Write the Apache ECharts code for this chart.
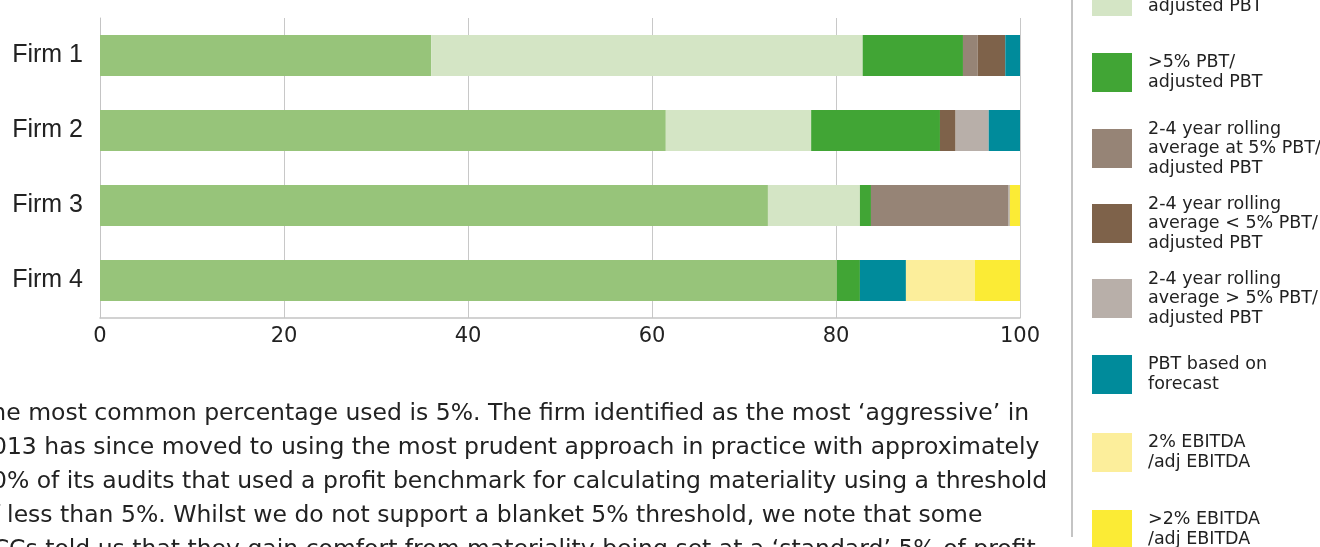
<!DOCTYPE html>
<html>
<head>
<meta charset="utf-8">
<script src="https://cdn.jsdelivr.net/npm/echarts@6/dist/echarts.min.js"></script>
<style>
html,body{margin:0;padding:0;background:#fff;}
#chart{width:1320px;height:547px;}
</style>
</head>
<body>
<div id="chart"></div>
<script>
// ---- data ----
var categories = ['Firm 1', 'Firm 2', 'Firm 3', 'Firm 4'];
var seriesNames = [
  '5% PBT/adjusted PBT',
  '<5% PBT/adjusted PBT',
  '>5% PBT/adjusted PBT',
  '2-4 year rolling average at 5% PBT/adjusted PBT',
  '2-4 year rolling average < 5% PBT/adjusted PBT',
  '2-4 year rolling average > 5% PBT/adjusted PBT',
  'PBT based on forecast',
  '2% EBITDA/adj EBITDA',
  '>2% EBITDA/adj EBITDA'
];
var legendLabels = [
  '5% PBT/\nadjusted PBT',
  '<5% PBT/\nadjusted PBT',
  '>5% PBT/\nadjusted PBT',
  '2-4 year rolling\naverage at 5% PBT/\nadjusted PBT',
  '2-4 year rolling\naverage < 5% PBT/\nadjusted PBT',
  '2-4 year rolling\naverage > 5% PBT/\nadjusted PBT',
  'PBT based on\nforecast',
  '2% EBITDA\n/adj EBITDA',
  '>2% EBITDA\n/adj EBITDA'
];
var pbt5       = [36.0, 61.5, 72.6, 80.1];
var pbtLess5   = [46.9, 15.8, 10.0, 0];
var pbtMore5   = [10.9, 14.0, 1.2, 2.5];
var rollAt5    = [1.6, 0, 14.9, 0];
var rollLess5  = [3.0, 1.7, 0, 0];
var rollMore5  = [0, 3.6, 0.2, 0];
var forecast   = [1.6, 3.4, 0, 5.0];
var ebitda2    = [0, 0, 0, 7.5];
var ebitdaMore = [0, 0, 1.1, 4.9];
var xTicks = [0, 20, 40, 60, 80, 100];
var paragraphLines = [
  'The most common percentage used is 5%. The firm identified as the most \u2018aggressive\u2019 in',
  '2013 has since moved to using the most prudent approach in practice with approximately',
  '50% of its audits that used a profit benchmark for calculating materiality using a threshold',
  'of less than 5%. Whilst we do not support a blanket 5% threshold, we note that some',
  'ACCs told us that they gain comfort from materiality being set at a \u2018standard\u2019 5% of profit'
];

// ---- styles ----
var colors = ['#97C47A', '#D4E5C5', '#41A535', '#968476', '#7E624A', '#B8AFA9', '#008B9B', '#FCEE9B', '#FBEB35'];
var values = [pbt5, pbtLess5, pbtMore5, rollAt5, rollLess5, rollMore5, forecast, ebitda2, ebitdaMore];
var iconTops = [-100, -23, 53, 129, 204, 279, 355, 433, 510];
var legendLineH = 19.5;
var iconW = 40, iconH = 39;

var series = seriesNames.map(function (n, i) {
  return {
    name: n,
    type: 'bar',
    stack: 'total',
    barWidth: 41,
    itemStyle: { color: colors[i] },
    emphasis: { disabled: true },
    data: values[i]
  };
});

var legends = seriesNames.map(function (n, i) {
  var lines = legendLabels[i].split('\n').length;
  var padTop = lines > 2 ? 4 : 0;
  var textH = lines * legendLineH + padTop;
  var top = iconTops[i] + iconH / 2 - Math.max(textH, iconH) / 2;
  return {
    orient: 'vertical',
    left: 1092,
    top: top,
    padding: 0,
    itemWidth: iconW,
    itemHeight: iconH,
    icon: 'rect',
    selectedMode: false,
    data: [n],
    formatter: function () { return legendLabels[i]; },
    textStyle: {
      fontFamily: 'DejaVu Sans',
      fontSize: 17.5,
      lineHeight: legendLineH,
      color: '#222',
      padding: [padTop, 0, 0, 11]
    }
  };
});

var chart = echarts.init(document.getElementById('chart'), null, { renderer: 'canvas' });
chart.setOption({
  animation: false,
  backgroundColor: '#fff',
  grid: { left: 100, right: 300, top: 18, bottom: 229, containLabel: false },
  xAxis: {
    type: 'value',
    min: 0, max: 100, interval: 20,
    axisLine: { show: true, lineStyle: { color: '#c4c4c4', width: 1.5 } },
    axisTick: { show: false },
    splitLine: { show: true, lineStyle: { color: '#c8c8c8', width: 1 } },
    axisLabel: {
      margin: 8,
      fontFamily: 'DejaVu Sans',
      fontSize: 21,
      color: '#222',
      formatter: function (v) { return xTicks.indexOf(v) >= 0 ? String(v) : ''; }
    }
  },
  yAxis: {
    type: 'category',
    inverse: true,
    data: categories,
    axisLine: { show: true, lineStyle: { color: '#c4c4c4', width: 1 } },
    axisTick: { show: false },
    axisLabel: {
      margin: 17,
      fontFamily: 'Liberation Sans',
      fontSize: 25,
      color: '#222'
    }
  },
  legend: legends,
  graphic: [
    {
      type: 'line',
      shape: { x1: 1072, y1: 0, x2: 1072, y2: 537 },
      style: { stroke: '#c4c4c4', lineWidth: 2 },
      silent: true
    },
    {
      type: 'text',
      left: -23,
      top: 397,
      silent: true,
      style: {
        text: paragraphLines.join('\n'),
        fontFamily: 'DejaVu Sans',
        fontSize: 23.5,
        lineHeight: 34,
        fill: '#222'
      }
    }
  ],
  series: series
});
</script>
</body>
</html>
